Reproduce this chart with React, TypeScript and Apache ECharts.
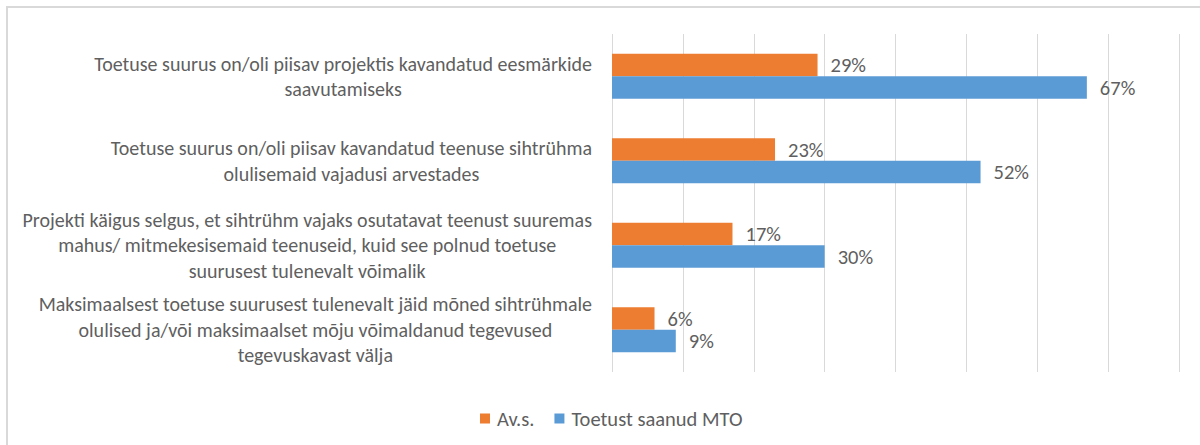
import React, { useEffect, useRef } from "react";
import * as echarts from "echarts";

const categories: string[] = [
  "Toetuse suurus on/oli piisav projektis kavandatud eesmärkide\nsaavutamiseks",
  "Toetuse suurus on/oli piisav kavandatud teenuse sihtrühma\nolulisemaid vajadusi arvestades",
  "Projekti käigus selgus, et sihtrühm vajaks osutatavat teenust suuremas\nmahus/ mitmekesisemaid teenuseid, kuid see polnud toetuse\nsuurusest tulenevalt võimalik",
  "Maksimaalsest toetuse suurusest tulenevalt jäid mõned sihtrühmale\nolulised ja/või maksimaalset mõju võimaldanud tegevused\ntegevuskavast välja",
];
const seriesNames: string[] = ["Av.s.", "Toetust saanud MTO"];
const avsValues: number[] = [29, 23, 17, 6];
const mtoValues: number[] = [67, 52, 30, 9];

const FONT = 'Carlito, Calibri, "Liberation Sans", Arial, sans-serif';
const TEXT = "#5f5f5f";

export default function App() {
  const ref = useRef<HTMLDivElement>(null);
  useEffect(() => {
    if (!ref.current) return;
    const chart = echarts.init(ref.current, undefined, { renderer: "svg" });
    const barLabel = {
      show: true,
      position: "right",
      distance: 13,
      formatter: "{c}%",
      color: TEXT,
      fontSize: 20.5,
      fontFamily: FONT,
    };
    chart.setOption({
      animation: false,
      textStyle: { fontFamily: FONT },
      color: ["#ED7D31", "#5B9BD5"],
      grid: { left: 612, right: 21, top: 34, bottom: 73, containLabel: false },
      legend: {
        top: 403,
        left: 475,
        itemWidth: 10,
        itemHeight: 10,
        itemGap: 20,
        icon: "rect",
        data: seriesNames,
        textStyle: { color: TEXT, fontSize: 20.5, fontFamily: FONT, padding: [0, 0, 0, 2] },
      },
      xAxis: {
        type: "value",
        min: 0,
        max: 80,
        interval: 10,
        axisLabel: { show: false },
        axisLine: { show: false },
        axisTick: { show: false },
        splitLine: { show: true, lineStyle: { color: "#d9d9d9", width: 1 } },
      },
      yAxis: {
        type: "category",
        inverse: true,
        data: categories,
        axisLine: { show: false },
        axisTick: { show: false },
        axisLabel: {
          margin: 20,
          align: "right",
          formatter: (v: string) =>
            v
              .split("\n")
              .map((l) => `{c|${l}}`)
              .join("\n"),
          rich: {
            c: {
              align: "center",
              fontSize: 20,
              lineHeight: 25.5,
              color: TEXT,
              fontFamily: FONT,
            },
          },
        },
      },
      series: [
        {
          name: seriesNames[0],
          type: "bar",
          data: avsValues,
          barWidth: 22.5,
          barGap: "0%",
          label: barLabel,
        },
        {
          name: seriesNames[1],
          type: "bar",
          data: mtoValues,
          barWidth: 22.5,
          barGap: "0%",
          label: barLabel,
        },
      ],
    });
    return () => chart.dispose();
  }, []);
  return (
    <>
      <div
        ref={ref}
        style={{ position: "fixed", left: 0, top: 0, width: 1200, height: 445, background: "#fff" }}
      />
      <div
        style={{
          position: "fixed",
          left: 6,
          top: 6,
          width: 1200,
          height: 445,
          borderLeft: "2px solid #d9d9d9",
          borderTop: "2px solid #d9d9d9",
          boxSizing: "border-box",
          pointerEvents: "none",
        }}
      />
    </>
  );
}
